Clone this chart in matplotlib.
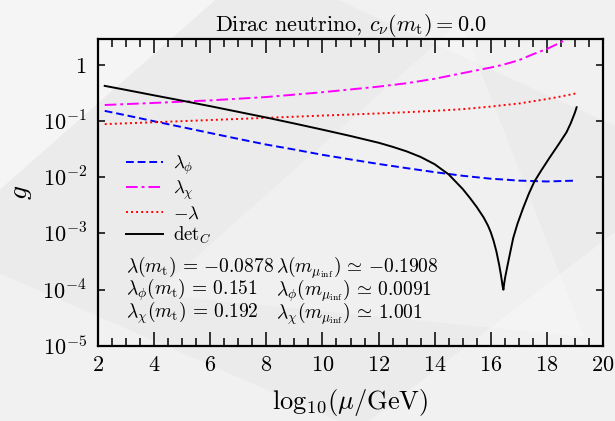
import math
import matplotlib
matplotlib.use("Agg")
import matplotlib.pyplot as plt
from matplotlib.patches import Polygon
from matplotlib.ticker import FixedLocator, MultipleLocator, FuncFormatter

plt.rcParams['mathtext.fontset'] = 'cm'
plt.rcParams['font.family'] = ['DejaVu Serif']

# ---- data ----
x_phi = [2.24, 3, 4, 5, 6, 7, 8, 9, 10, 11, 12, 13, 14, 15, 16, 16.45, 17, 18, 19.06]
y_phi = [0.151, 0.126, 0.0986, 0.0776, 0.061, 0.048, 0.038, 0.031, 0.025, 0.0207,
         0.0172, 0.0145, 0.0123, 0.0106, 0.0094, 0.0091, 0.0087, 0.0084, 0.0087]

x_chi = [2.24, 4, 6, 8, 10, 11, 12, 13, 14, 15, 16, 16.45, 17, 17.5, 18, 18.5, 19.06]
y_chi = [0.192, 0.209, 0.232, 0.266, 0.324, 0.363, 0.407, 0.468, 0.562, 0.708, 0.89,
         1.001, 1.2, 1.53, 1.9, 2.5, 3.8]

x_lam = [2.24, 4, 6, 8, 10, 12, 13, 14, 15, 16, 16.45, 17, 18, 18.5, 19.06]
y_lam = [0.0878, 0.0948, 0.1038, 0.1135, 0.1245, 0.136, 0.143, 0.151, 0.162, 0.180,
         0.1908, 0.204, 0.245, 0.272, 0.31]

x_det = [2.24, 3, 4, 5, 6, 7, 8, 9, 10, 11, 12, 12.5, 13, 13.5, 14, 14.5, 15, 15.25,
         15.5, 15.75, 15.9, 16.0, 16.1, 16.2, 16.3, 16.37, 16.42, 16.45, 16.48, 16.52,
         16.6, 16.7, 16.8, 16.95, 17.15, 17.35, 17.55, 17.8, 18.1, 18.4, 18.7, 18.85,
         19.0, 19.06]
y_det = [0.42, 0.356, 0.285, 0.229, 0.183, 0.145, 0.115, 0.090, 0.070, 0.054, 0.041,
         0.0347, 0.0288, 0.0229, 0.0170, 0.0112, 0.00617, 0.00432, 0.00295, 0.00191,
         0.00138, 0.00105, 0.00074, 0.00048, 0.000275, 0.000174, 0.000117, 0.0001,
         0.000132, 0.000174, 0.000275, 0.00048, 0.00083, 0.00148, 0.0028, 0.005,
         0.0083, 0.0132, 0.0224, 0.0372, 0.063, 0.091, 0.141, 0.175]

labels = [r'$\lambda_\phi$', r'$\lambda_\chi$', r'$-\lambda$', r'$\mathrm{det}_C$']
title = r'$\mathrm{Dirac\ neutrino,}\,c_\nu(m_\mathrm{t}) = 0.0$'
xlabel = r'$\mathrm{log}_{10}(\mu/\mathrm{GeV})$'
ylabel = r'$g$'
ann_left = [r'$\lambda(m_\mathrm{t})\,=\,{-}0.0878$',
            r'$\lambda_\phi(m_\mathrm{t})\,=\,0.151$',
            r'$\lambda_\chi(m_\mathrm{t})\,=\,0.192$']
ann_right = [r'$\lambda(m_{\mu_\mathrm{inf}})\,\simeq\,{-}0.1908$',
             r'$\lambda_\phi(m_{\mu_\mathrm{inf}})\,\simeq\,0.0091$',
             r'$\lambda_\chi(m_{\mu_\mathrm{inf}})\,\simeq\,1.001$']
yticks = [1e-5, 1e-4, 1e-3, 1e-2, 1e-1, 1]

# ---- figure ----
fig = plt.figure(figsize=(6.15, 4.21), dpi=100, facecolor='#ebebeb')
for pts, c, a in [
    ([(0, 1), (0.35, 1), (0.0, 0.55)], 'white', 0.55),
    ([(0, 0.0), (0.0, 0.35), (0.55, 0.0)], 'white', 0.35),
    ([(0.6, 0.0), (1.0, 0.0), (1.0, 0.45)], 'white', 0.35),
    ([(0.55, 1.0), (1.0, 1.0), (1.0, 0.7)], 'white', 0.3),
    ([(0.25, 0.3), (0.75, 0.95), (0.95, 0.2)], 'white', 0.25),
]:
    fig.patches.append(Polygon(pts, closed=True, transform=fig.transFigure,
                               facecolor=c, edgecolor='none', alpha=a, zorder=-5))

ax = fig.add_axes([98/615, 1-346/421, (603-98)/615, (346-39)/421])
ax.set_facecolor('none')

lw = 1.4
ax.plot(x_phi, y_phi, color='blue', ls=(0, (4, 2)), lw=lw, label=labels[0])
ax.plot(x_chi, y_chi, color='magenta', ls=(0, (6, 2, 1.5, 2)), lw=lw, label=labels[1])
ax.plot(x_lam, y_lam, color='red', ls=(0, (1, 1.6)), lw=lw, label=labels[2])
ax.plot(x_det, y_det, color='black', ls='-', lw=lw, label=labels[3])

ax.set_yscale('log')
ax.set_xlim(2, 20)
ax.set_ylim(1e-5, 2.86)

ax.xaxis.set_major_locator(MultipleLocator(2))
ax.xaxis.set_minor_locator(MultipleLocator(0.5))
ax.yaxis.set_major_locator(FixedLocator(yticks))
ax.yaxis.set_minor_locator(FixedLocator([]))

def yfmt(v, pos):
    e = int(round(math.log10(v)))
    if e == 0:
        return r'$1$'
    return r'$10^{%d}$' % e
ax.yaxis.set_major_formatter(FuncFormatter(yfmt))
ax.xaxis.set_major_formatter(FuncFormatter(lambda v, p: r'$%d$' % int(round(v))))

ax.tick_params(axis='both', which='both', direction='in', top=True, right=True,
               labelsize=16, width=1.1)
ax.tick_params(axis='x', which='major', length=10, pad=6)
ax.tick_params(axis='x', which='minor', length=6)
ax.tick_params(axis='y', which='major', length=5, pad=8)
for s in ax.spines.values():
    s.set_linewidth(1.6)

ax.set_title(title, fontsize=16, pad=6)
ax.set_xlabel(xlabel, fontsize=19, labelpad=8)
ax.set_ylabel(ylabel, fontsize=20, labelpad=6)

leg = ax.legend(loc='upper left', bbox_to_anchor=(0.055, 0.628), frameon=False,
                fontsize=13.5, handlelength=2.0, handletextpad=0.5,
                labelspacing=0.12, borderaxespad=0, borderpad=0)

ax.text(0.055, 0.18, '\n'.join(ann_left), transform=ax.transAxes, fontsize=14,
        va='center', ha='left', linespacing=0.83)
ax.text(0.352, 0.18, '\n'.join(ann_right), transform=ax.transAxes, fontsize=14,
        va='center', ha='left', linespacing=0.83)

fig.savefig('out.png', dpi=100, facecolor=fig.get_facecolor())
